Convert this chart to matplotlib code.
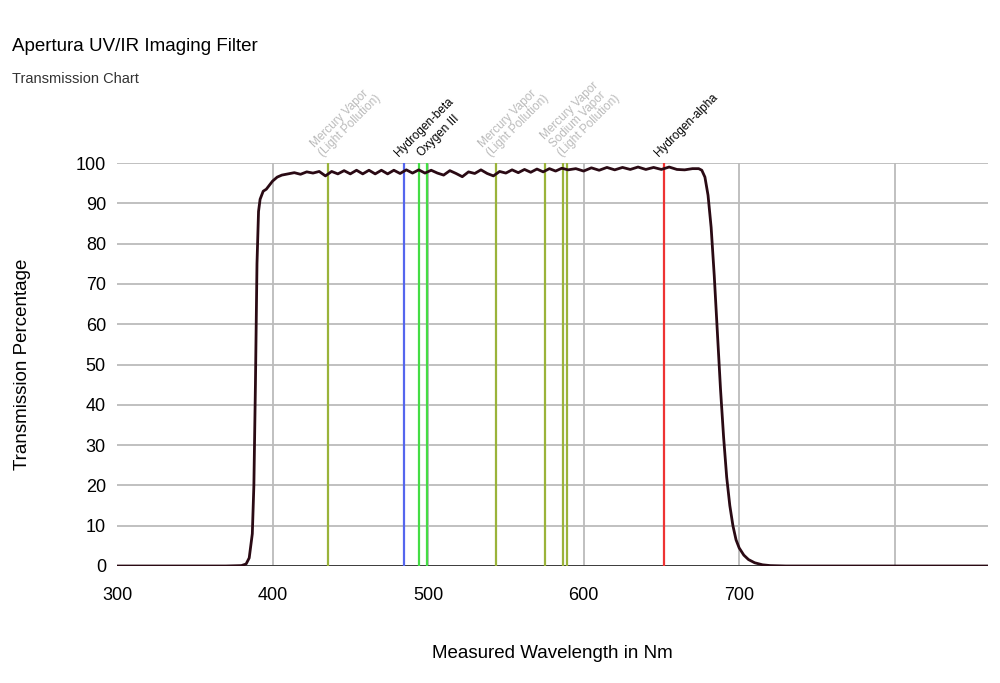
import matplotlib
matplotlib.use("Agg")
import matplotlib.pyplot as plt

plt.rcParams["font.family"] = "Liberation Sans"

wavelength = [300, 370, 380, 383, 385, 387, 388, 389, 390, 391, 392, 394, 396, 398, 400, 403, 406, 410, 414, 418,
              422, 426, 430, 434, 438, 442, 446, 450, 454, 458, 462, 466, 470, 474, 478, 482, 486, 490, 494,
              498, 502, 506, 510, 514, 518, 522, 526, 530, 534, 538, 542, 546, 550, 554, 558, 562, 566,
              570, 574, 578, 582, 586, 590, 595, 600, 605, 610, 615, 620, 625, 630, 635, 640, 645, 650,
              655, 660, 665, 670, 674, 676, 678, 680, 682, 684, 686, 688, 690, 692, 694, 696, 698, 700,
              703, 706, 710, 715, 720, 730, 760, 860]
transmission = [0, 0, 0.1, 0.5, 2, 8, 20, 45, 75, 88, 91, 93, 93.5, 94.5, 95.5, 96.5, 97, 97.3, 97.6, 97.2,
                97.8, 97.5, 97.9, 96.8, 97.9, 97.3, 98.1, 97.3, 98.2, 97.3, 98.2, 97.3, 98.2, 97.3, 98.2, 97.4, 98.3, 97.5, 98.3,
                97.5, 98.2, 97.5, 97.0, 98.1, 97.4, 96.6, 97.8, 97.4, 98.3, 97.4, 96.8, 97.9, 97.5, 98.3, 97.6, 98.4, 97.7,
                98.5, 97.8, 98.6, 98.0, 98.7, 98.3, 98.6, 98.0, 98.8, 98.2, 98.9, 98.3, 98.9, 98.4, 99.0, 98.4, 98.9, 98.4,
                99.0, 98.4, 98.3, 98.6, 98.6, 98.2, 96.5, 92, 84, 72, 58, 44, 32, 22, 15, 10, 6.5, 4.5,
                2.7, 1.6, 0.8, 0.3, 0.1, 0, 0, 0]

line_wl = [435.8, 484.8, 494.3, 499.4, 543.8, 575.2, 586.8, 589.4, 651.8]
line_colors = ["#9ab33a", "#5566ee", "#44dd44", "#44dd44", "#9ab33a", "#9ab33a", "#9ab33a", "#9ab33a", "#ee3333"]

label_wl = [435.8, 484.8, 499.4, 543.8, 589.4, 651.8]
label_text = ["Mercury Vapor\n(Light Pollution)", "Hydrogen-beta", "Oxygen III",
              "Mercury Vapor\n(Light Pollution)", "Mercury Vapor\nSodium Vapor\n(Light Pollution)", "Hydrogen-alpha"]
label_colors = ["#bbbbbb", "black", "black", "#bbbbbb", "#bbbbbb", "black"]

x_ticks = [300, 400, 500, 600, 700]
y_ticks = [0, 10, 20, 30, 40, 50, 60, 70, 80, 90, 100]

fig = plt.figure(figsize=(10, 6.83), dpi=100)
ax = fig.add_axes([0.117, 1 - 566 / 683, 0.871, (566 - 163) / 683])
ax.set_xlim(300, 860)
ax.set_ylim(0, 100)

for gx in [400, 500, 600, 700, 800]:
    ax.axvline(gx, color="#bbbbbb", lw=1.3, zorder=1)
for gy in y_ticks:
    ax.axhline(gy, color="#bbbbbb", lw=1.3, zorder=1)
ax.axhline(0, color="#333333", lw=1.3, zorder=1)

for wl, c in zip(line_wl, line_colors):
    ax.axvline(wl, color=c, lw=1.6, zorder=2)

ax.plot(wavelength, transmission, color="#2a0a14", lw=2, zorder=3)

for wl, t, c in zip(label_wl, label_text, label_colors):
    ax.text(wl - 2, 101, t, rotation=45, rotation_mode="anchor", ha="left", va="bottom",
            fontsize=8.5, color=c, linespacing=1.0)

for s in ax.spines.values():
    s.set_visible(False)
ax.set_xticks(x_ticks)
ax.set_yticks(y_ticks)
ax.tick_params(axis="y", length=0, labelsize=13, pad=8)
ax.tick_params(axis="x", length=0, labelsize=13, pad=15)
ax.set_xlabel("Measured Wavelength in Nm", fontsize=13.5, labelpad=30)
ax.set_ylabel("Transmission Percentage", fontsize=13.5, labelpad=32)

fig.text(0.012, 0.925, "Apertura UV/IR Imaging Filter", fontsize=13.5)
fig.text(0.012, 0.878, "Transmission Chart", fontsize=10.5, color="#333333")

fig.savefig("out.png", dpi=100)
